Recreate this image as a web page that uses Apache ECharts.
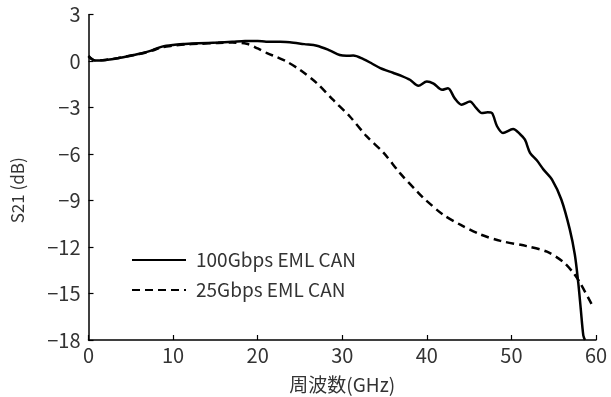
<!DOCTYPE html>
<html><head><meta charset="utf-8">
<script src="https://cdn.jsdelivr.net/npm/echarts@6/dist/echarts.min.js"></script>
<style>html,body{margin:0;padding:0;background:#fff}#c{width:611px;height:397px}</style>
</head><body><div id="c"></div>
<script>
var seriesNames = ['100Gbps EML CAN', '25Gbps EML CAN'];
var freq100 = [0, 0.8, 2, 3.5, 5, 6.3, 7.5, 8.7, 10, 11.4, 13, 15.3, 17, 18.5, 20, 21, 22.5, 23.8, 25.5, 27, 28.5, 29.7, 30.5, 31.3, 32.5, 33.5, 34.5, 36, 37, 38, 39, 40, 40.8, 41.8, 42.5, 43.3, 44.1, 45.1, 45.8, 46.5, 47.2, 47.7, 48.3, 49, 50.2, 51, 51.6, 52.2, 53, 53.8, 54.8, 55.9, 56.9, 57.5, 57.9, 58.2, 58.5, 58.7];
var s21_100 = [0.35, 0.04, 0.08, 0.19, 0.35, 0.51, 0.7, 0.94, 1.05, 1.11, 1.16, 1.2, 1.25, 1.31, 1.3, 1.26, 1.25, 1.22, 1.1, 1.0, 0.7, 0.4, 0.35, 0.36, 0.13, -0.15, -0.45, -0.75, -0.95, -1.2, -1.59, -1.31, -1.45, -1.85, -1.75, -2.4, -2.81, -2.6, -3.0, -3.35, -3.3, -3.35, -4.2, -4.64, -4.38, -4.7, -5.07, -5.92, -6.4, -7.0, -7.64, -8.93, -10.86, -12.5, -14.3, -16.0, -17.7, -18];
var freq25 = [0, 0.8, 2, 3.5, 5, 6.3, 7.5, 8.7, 10, 11.4, 13, 15.3, 17, 18.7, 20, 21.1, 22.3, 23.4, 25, 27, 28.9, 30.9, 32.9, 34.9, 36.8, 39, 39.8, 41.9, 43.9, 46.3, 48.7, 51.8, 54.2, 56.1, 57.3, 58.1, 59.5, 59.7];
var s21_25 = [0.3, 0.04, 0.08, 0.2, 0.36, 0.5, 0.68, 0.9, 1.0, 1.08, 1.12, 1.18, 1.2, 1.12, 0.82, 0.52, 0.25, -0.02, -0.56, -1.42, -2.49, -3.57, -4.86, -5.92, -7.21, -8.5, -8.93, -9.9, -10.54, -11.18, -11.6, -11.94, -12.3, -12.95, -13.65, -14.3, -15.7, -15.9];
var xTicks = [0, 10, 20, 30, 40, 50, 60];
var yTicks = [3, 0, -3, -6, -9, -12, -15, -18];

function pairs(xs, ys) { return xs.map(function (x, i) { return [x, ys[i]]; }); }
var FONT = '"Noto Sans CJK JP", "Noto Sans", sans-serif';
var TXT = '#333';
var chart = echarts.init(document.getElementById('c'));
chart.setOption({
  animation: false,
  backgroundColor: '#fff',
  grid: { left: 88.5, right: 15, top: 14.7, bottom: 57, containLabel: false, outerBoundsMode: 'none' },
  legend: {
    orient: 'vertical', left: 126, top: 245, itemWidth: 54, itemHeight: 20, itemGap: 10,
    itemStyle: { opacity: 0 },
    textStyle: { fontFamily: FONT, fontSize: 19, color: TXT, lineHeight: 20, padding: [0, 0, 0, 5] },
    data: seriesNames
  },
  xAxis: {
    type: 'value', min: xTicks[0], max: xTicks[xTicks.length - 1], interval: 10,
    name: '周波数(GHz)', nameLocation: 'middle', nameGap: 35,
    nameTextStyle: { fontFamily: FONT, fontSize: 19, color: TXT },
    axisLine: { onZero: false, lineStyle: { color: '#000', width: 1.5 } },
    axisTick: { inside: true, length: 5, lineStyle: { color: '#000', width: 1.2 } },
    axisLabel: { fontFamily: FONT, fontSize: 20, color: TXT, margin: 5 },
    splitLine: { show: false }
  },
  yAxis: {
    type: 'value', min: yTicks[yTicks.length - 1], max: yTicks[0], interval: 3,
    name: 'S21 (dB)', nameLocation: 'middle', nameGap: 62,
    nameTextStyle: { fontFamily: FONT, fontSize: 17, color: TXT, padding: [0, 0, 0, -26] },
    axisLine: { show: true, onZero: false, lineStyle: { color: '#000', width: 1.5 } },
    axisTick: { show: true, inside: true, length: 5, lineStyle: { color: '#000', width: 1.2 } },
    axisLabel: { fontFamily: FONT, fontSize: 20, color: TXT, margin: 8,
      formatter: function (v) { return v < 0 ? '\u2212' + Math.abs(v) : String(v); } },
    splitLine: { show: false }
  },
  series: [
    { name: seriesNames[0], type: 'line', data: pairs(freq100, s21_100), smooth: 0.3, symbol: 'none',
      lineStyle: { color: '#000', width: 2.5 }, itemStyle: { color: '#000' } },
    { name: seriesNames[1], type: 'line', data: pairs(freq25, s21_25), smooth: 0.3, symbol: 'none',
      lineStyle: { color: '#000', width: 2.5, type: [8, 5] }, itemStyle: { color: '#000' } }
  ]
});
</script></body></html>
